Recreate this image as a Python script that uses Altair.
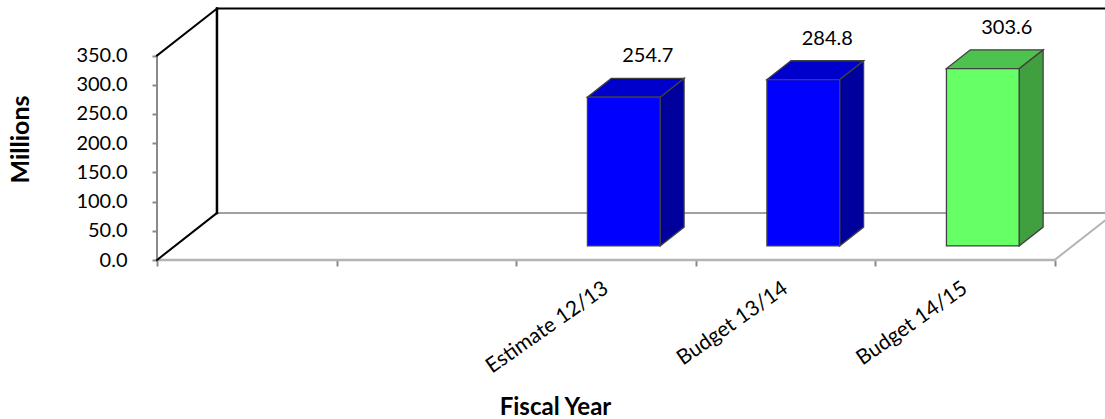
import json
import altair as alt
import pandas as pd

# ---- chart values -------------------------------------------------------
categories = ["", "", "Estimate 12/13", "Budget 13/14", "Budget 14/15"]
amounts = [None, None, 254.7, 284.8, 303.6]
y_ticks = [0, 50, 100, 150, 200, 250, 300, 350]

# ---- styling --------------------------------------------------------------
FONT = "Lato"
HIGHLIGHT = "Budget 14/15"
BLUE = {"front": "#0000ff", "side": "#00009c", "top": "#0000cc"}
GREEN = {"front": "#66ff66", "side": "#40a040", "top": "#4ec24e"}
EDGE = "#404040"

# ---- pseudo-3D geometry (in axis units) -----------------------------------
X_MAX = 5.281            # right edge of the plotting window
Y_MAX = 445.2            # top edge of the plotting window
DEPTH_X = 0.334          # horizontal shift of the full floor depth
DEPTH_Y = 80.5           # vertical shift of the full floor depth
BAR_FRONT = 0.30         # depth fraction of a bar's front face
BAR_BACK = 0.70          # depth fraction of a bar's back face
BAR_WIDTH = 0.405
N = len(categories)
WALL_TOP = max(y_ticks)

sx = (BAR_BACK - BAR_FRONT) * DEPTH_X
sy = (BAR_BACK - BAR_FRONT) * DEPTH_Y

fronts, sides, tops, labels = [], [], [], []
for i, (cat, val) in enumerate(zip(categories, amounts)):
    if val is None:
        continue
    pal = GREEN if cat == HIGHLIGHT else BLUE
    x0 = i + 0.5 - BAR_WIDTH / 2 + BAR_FRONT * DEPTH_X
    x1 = x0 + BAR_WIDTH
    y0 = BAR_FRONT * DEPTH_Y
    y1 = val + y0
    fronts.append({"bar": cat, "x": x0, "x2": x1, "y": y0, "y2": y1, "c": pal["front"]})
    sides += [
        {"bar": cat, "x": x1, "y": y0, "y2": y1, "c": pal["side"]},
        {"bar": cat, "x": x1 + sx, "y": y0 + sy, "y2": y1 + sy, "c": pal["side"]},
    ]
    tops += [
        {"bar": cat, "y": y1, "x": x0, "x2": x1, "c": pal["top"]},
        {"bar": cat, "y": y1 + sy, "x": x0 + sx, "x2": x1 + sx, "c": pal["top"]},
    ]
    labels.append({"bar": cat, "x": (x0 + x1) / 2 + sx, "y": y1 + sy, "v": val})

# wall and floor edges
segments = pd.DataFrame(
    [
        (0, 0, 0, WALL_TOP, "#8a8a8a", 2),                      # value axis line
        (0, 0, N, 0, "#b4b4b4", 2.5),                           # floor front edge
        (N, 0, N + DEPTH_X, DEPTH_Y, "#b4b4b4", 2),             # floor right edge
        (DEPTH_X, DEPTH_Y, X_MAX, DEPTH_Y, "#808080", 1.5),     # floor back edge
        (0, 0, DEPTH_X, DEPTH_Y, "#000000", 2),                 # floor left edge
        (0, WALL_TOP, DEPTH_X, WALL_TOP + DEPTH_Y, "#000000", 2),
        (DEPTH_X, DEPTH_Y, DEPTH_X, WALL_TOP + DEPTH_Y, "#000000", 2.5),
        (DEPTH_X, WALL_TOP + DEPTH_Y, X_MAX, WALL_TOP + DEPTH_Y, "#000000", 2),
    ],
    columns=["x", "y", "x2", "y2", "c", "w"],
)

xs = alt.Scale(domain=[0, X_MAX], nice=False, zero=False)
ys = alt.Scale(domain=[0, Y_MAX], nice=False, zero=False)

x_tick_axis = alt.Axis(
    orient="bottom", values=list(range(N + 1)), labels=False, domain=False,
    ticks=True, tickSize=6, tickColor="#8a8a8a", tickWidth=2, grid=False,
    title="Fiscal Year", titleFont=FONT, titleFontSize=24, titleFontWeight="bold",
    titleColor="#000000", titleX=398, titleY=147, titleBaseline="middle",
    titleAlign="center", titleAnchor="start",
)
y_axis = alt.Axis(
    orient="left", values=y_ticks, format=".1f", domain=False, grid=False,
    ticks=True, tickSize=5, tickColor="#8a8a8a", tickWidth=2,
    labelFont=FONT, labelFontSize=20, labelColor="#000000", labelPadding=25,
    title="Millions", titleFont=FONT, titleFontSize=25, titleFontWeight="bold",
    titleColor="#000000", titleAngle=270, titleX=-137, titleY=139,
    titleAlign="center", titleBaseline="middle",
)
label_expr = json.dumps(categories) + "[floor(datum.value)]"
x_label_axis = alt.Axis(
    orient="bottom", values=[i + 0.5 for i in range(N)], labelExpr=label_expr,
    ticks=False, domain=False, grid=False, labelAngle=325, labelAlign="right",
    labelBaseline="middle", labelPadding=26, labelFont=FONT, labelFontSize=21,
    labelColor="#000000", title=None, labelOverlap=False,
)

frame = alt.Chart(segments).mark_rule(strokeCap="square").encode(
    x=alt.X("x:Q", scale=xs, axis=x_tick_axis),
    y=alt.Y("y:Q", scale=ys, axis=y_axis),
    x2="x2:Q",
    y2="y2:Q",
    color=alt.Color("c:N", scale=None),
    strokeWidth=alt.StrokeWidth("w:Q", scale=None),
)

side = alt.Chart(pd.DataFrame(sides)).mark_area(
    stroke=EDGE, strokeWidth=1.3, opacity=1
).encode(
    x=alt.X("x:Q", scale=xs, axis=None),
    y=alt.Y("y:Q", scale=ys, axis=None),
    y2="y2:Q",
    detail="bar:N",
    fill=alt.Fill("c:N", scale=None),
)

top = alt.Chart(pd.DataFrame(tops)).mark_area(
    orient="horizontal", stroke=EDGE, strokeWidth=1.3, opacity=1
).encode(
    y=alt.Y("y:Q", scale=ys, axis=None),
    x=alt.X("x:Q", scale=xs, axis=None),
    x2="x2:Q",
    detail="bar:N",
    fill=alt.Fill("c:N", scale=None),
)

front = alt.Chart(pd.DataFrame(fronts)).mark_rect(
    stroke=EDGE, strokeWidth=1.3
).encode(
    x=alt.X("x:Q", scale=xs, axis=None),
    x2="x2:Q",
    y=alt.Y("y:Q", scale=ys, axis=None),
    y2="y2:Q",
    fill=alt.Fill("c:N", scale=None),
)

values_text = alt.Chart(pd.DataFrame(labels)).mark_text(
    font=FONT, fontSize=20, color="#000000", baseline="middle", dy=-22
).encode(
    x=alt.X("x:Q", scale=xs, axis=x_label_axis),
    y=alt.Y("y:Q", scale=ys, axis=None),
    text=alt.Text("v:Q", format=".1f"),
)

chart = (
    alt.layer(frame, side, top, front, values_text)
    .resolve_axis(x="independent", y="independent")
    .properties(
        width=948,
        height=260,
        autosize=alt.AutoSizeParams(type="none"),
        padding={"left": 157, "top": 0, "right": 0, "bottom": 159},
        background="#ffffff",
    )
    .configure_view(strokeWidth=0)
)

chart.save("out.html", embed_options={"renderer": "svg", "actions": False})
